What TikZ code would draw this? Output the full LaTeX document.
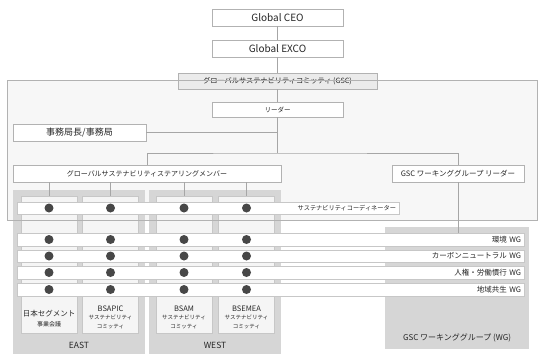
\documentclass[tikz,border=0pt]{standalone}
\usepackage{fontspec}
\setmainfont{Noto Sans CJK JP}
\usepackage{tikz}

\tikzset{
  box/.style={draw=black!30,fill=white,inner sep=0pt,text=black!85,minimum height=17pt},
  bar/.style={draw=black!22,fill=white,inner xsep=3pt,inner ysep=0pt,minimum height=12.5pt,align=right,text=black!85,font=\fontsize{7.5}{8}\selectfont},
  region/.style={fill=black!16},
  col/.style={draw=black!22,fill=black!4,minimum width=56pt,minimum height=137pt,inner sep=0pt},
  link/.style={draw=black!35,line width=0.6pt},
  dot/.style={fill=black!72},
  lbl/.style={text=black!85,inner sep=0pt,align=center}
}

\begin{document}
\begin{tikzpicture}[x=1pt,y=-1pt]
  \useasboundingbox (0,0) rectangle (543,360);
  % GSC area
  \fill[black!3] (7,80) rectangle (537,220);
  \fill[region] (13,190) rectangle (145,354);
  \fill[region] (149,190) rectangle (281,354);
  \fill[region] (385,227) rectangle (529,349);
  \node[lbl,font=\fontsize{8.5}{9}\selectfont] (east) at (79,345) {EAST};
  \node[lbl,font=\fontsize{8.5}{9}\selectfont] (west) at (215,345) {WEST};
  \node[lbl,font=\fontsize{8}{9}\selectfont] (wgname) at (457,338) {GSC ワーキンググループ (WG)};

  % top of the chart
  \node[box,minimum width=131pt,font=\fontsize{10}{11}\selectfont] (ceo) at (277.5,17.5) {Global CEO};
  \node[box,minimum width=131pt,font=\fontsize{10}{11}\selectfont] (exco) at (277.5,48.5) {Global EXCO};
  \draw[link] (ceo) -- (exco);
  \draw[link] (exco) -- (277.5,73);
  \node[box,fill=black!8,minimum width=199pt,minimum height=16pt,font=\fontsize{7.2}{8}\selectfont] (gsc) at (277.5,81) {グローバルサステナビリティコミッティ (GSC)};
  \node[box,minimum width=131pt,minimum height=15pt,font=\fontsize{6.5}{7}\selectfont] (leader) at (277.5,109.5) {リーダー};
  \node[box,minimum width=133pt,font=\fontsize{9}{10}\selectfont] (office) at (79.5,132.5) {事務局長/事務局};
  \node[box,minimum width=268pt,font=\fontsize{7}{8}\selectfont] (member) at (147,173.5) {グローバルサステナビリティステアリングメンバー};
  \node[box,minimum width=132pt,font=\fontsize{7.5}{8}\selectfont] (wglead) at (458,173.5) {GSC ワーキンググループ リーダー};
  \coordinate (fork) at (277.5,153);
  \draw[link] (gsc) -- (leader);
  \draw[link] (leader) -- (fork);
  \draw[link] (office) -- (office -| fork);
  \draw[link] (member.north) |- (fork) -| (wglead.north);

  % regional committees
  \foreach \n/\x in {1/49,2/110.5,3/184,4/246.5}{
    \node[col] (c\n) at (\x,264.5) {};
    \draw[link] (member.south -| c\n) -- (c\n.north);
  }
  \node[lbl] (c1txt) at (49,318.5) {{\fontsize{7.5}{9}\selectfont 日本セグメント}\\[-1.5pt]{\fontsize{6}{7}\selectfont 事業会議}};
  \node[lbl] (c2txt) at (110.5,317.5) {{\fontsize{7.5}{8}\selectfont BSAPIC}\\[-3.5pt]{\fontsize{5.5}{7}\selectfont サステナビリティ}\\[-3pt]{\fontsize{5.5}{7}\selectfont コミッティ}};
  \node[lbl] (c3txt) at (184,317.5) {{\fontsize{7.5}{8}\selectfont BSAM}\\[-3.5pt]{\fontsize{5.5}{7}\selectfont サステナビリティ}\\[-3pt]{\fontsize{5.5}{7}\selectfont コミッティ}};
  \node[lbl] (c4txt) at (246.5,317.5) {{\fontsize{7.5}{8}\selectfont BSEMEA}\\[-3.5pt]{\fontsize{5.5}{7}\selectfont サステナビリティ}\\[-3pt]{\fontsize{5.5}{7}\selectfont コミッティ}};
  \draw[black!30] (7,80) rectangle (537,220);

  % rows with members
  \node[bar,text width=376pt,font=\fontsize{6.2}{7}\selectfont] (coord) at (208,208) {サステナビリティコーディネーター};
  \foreach \y/\t [count=\i] in {239.5/環境 WG,256/カーボンニュートラル WG,272.5/人権・労働慣行 WG,289.5/地域共生 WG}{
    \node[bar,text width=501pt] (wg\i) at (270.5,\y) {\t};
  }
  \draw[link] (wglead.south) -- (wglead.south |- wg1.north);
  \foreach \r in {coord,wg1,wg2,wg3,wg4}
    \foreach \n in {1,...,4}
      \fill[dot] (c\n |- \r) circle (4.5);
\end{tikzpicture}
\end{document}
